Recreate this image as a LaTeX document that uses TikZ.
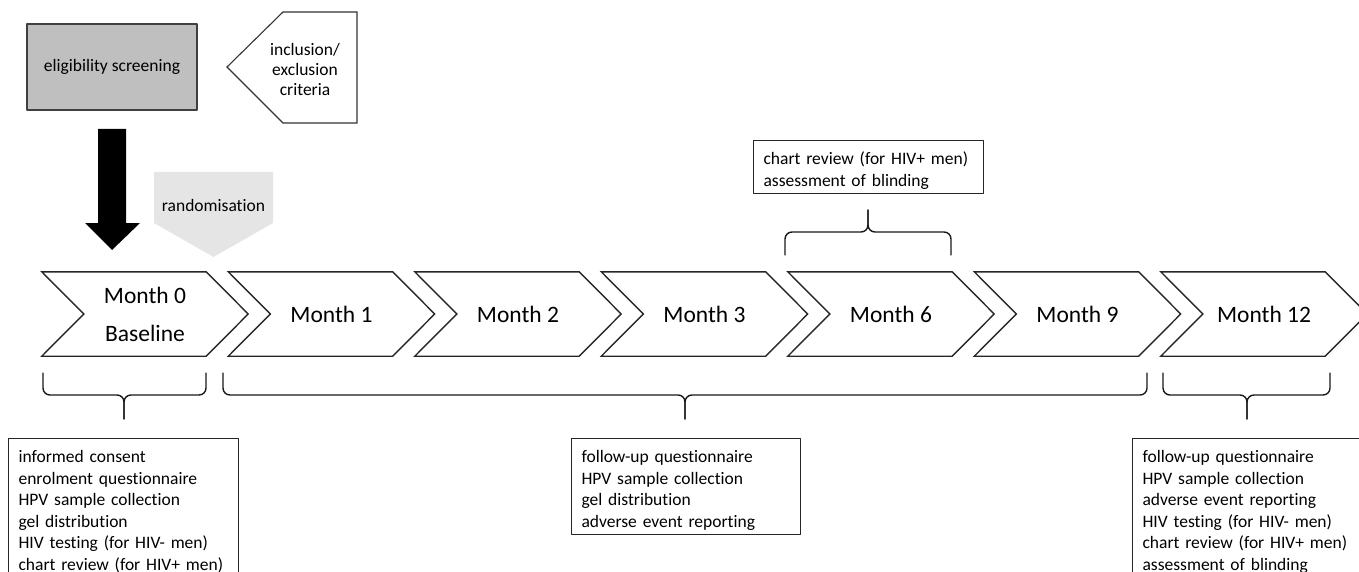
\documentclass[tikz,border=0pt]{standalone}
\usepackage{fontspec}
\setmainfont{Carlito}[Ligatures={NoCommon}]
\newcommand{\lowbrace}[3]{%
	\draw [bracket] (#1,373) -- (#1,395) -- (#3,395) -- (#3,419);
	\draw [bracket] (#2,373) -- (#2,395) -- (#3,395) -- (#3,419);}
\newcommand{\boxtail}{\rule[-12pt]{0pt}{12pt}}
\tikzset{
	month/.style={rectangle,inner sep=0pt,minimum width=206pt,minimum height=84pt,align=center,font=\fontsize{23.5}{38}\selectfont},
	chev/.style={draw=black!85,line width=1.4pt,line join=miter},
	taskbox/.style={draw=black!85,line width=1.1pt,anchor=north west,align=left,inner xsep=10pt,inner ysep=4pt,font=\fontsize{17.5}{21.5}\selectfont,execute at begin node={\rule{0pt}{20pt}}},
	bracket/.style={draw=black!90,line width=1.4pt,rounded corners=7pt},
	small/.style={font=\fontsize{17.5}{20}\selectfont,align=center}
}

\begin{document}
\begin{tikzpicture}[line cap=round,line join=round,x=1pt,y=-1pt]
			\clip (0,0) rectangle (1359,572);
			% screening and criteria
			\node[draw=black!75,line width=1.1pt,fill=gray!50,minimum width=170pt,minimum height=86pt,small] (screen) at (112,67) {eligibility screening};
			\draw [line width=1.1pt,line join=miter,draw=black!80] (227,67) -- (283,12) -- (357,12) -- (357,123) -- (283,123) -- cycle;
			\node[small] (crit) at (305,69) {inclusion/\\exclusion\\criteria};
			% arrows down to baseline
			\fill [black] (98,129) -- (126,129) -- (126,223) -- (140,223) -- (112,250) -- (85,223) -- (98,223) -- cycle;
			\fill [gray!20] (154,172) -- (273,172) -- (273,223) -- (213.5,257) -- (154,223) -- cycle;
			\node[small] (rand) at (213.5,205) {randomisation};
			% time line
			\foreach \i/\txt in {0/{Month 0\\Baseline},1/{Month 1},2/{Month 2},3/{Month 3},4/{Month 6},5/{Month 9},6/{Month 12}} {
				\node[month] (m\i) at ({145+186.5*\i},314) {\txt};
				\draw [chev] (m\i.north west) -- ([xshift=-42pt]m\i.north east) -- (m\i.east) -- ([xshift=-42pt]m\i.south east) -- (m\i.south west) -- ([xshift=42pt]m\i.west) -- cycle;
			}
			% braces
			\draw [bracket] (785,255) -- (785,232) -- (868,232) -- (868,210);
			\draw [bracket] (951,255) -- (951,232) -- (868,232) -- (868,210);
			\lowbrace{43}{206}{124}
			\lowbrace{223}{1147}{685}
			\lowbrace{1163}{1330}{1247}
			% tasks
			\node[taskbox,text width=210pt] (tasks6) at (753,140) {chart review (for HIV+ men)\\assessment of blinding};
			\node[taskbox,text width=210pt] (tasks0) at (8,438) {informed consent\\enrolment questionnaire\\HPV sample collection\\gel distribution\\HIV testing (for HIV- men)\\chart review (for HIV+ men)\boxtail};
			\node[taskbox,text width=209pt] (tasks1) at (571,438) {follow-up questionnaire\\HPV sample collection\\gel distribution\\adverse event reporting};
			\node[taskbox,text width=212pt] (tasks12) at (1132,438) {follow-up questionnaire\\HPV sample collection\\adverse event reporting\\HIV testing (for HIV- men)\\chart review (for HIV+ men)\\assessment of blinding\boxtail};
		\end{tikzpicture}
\end{document}
